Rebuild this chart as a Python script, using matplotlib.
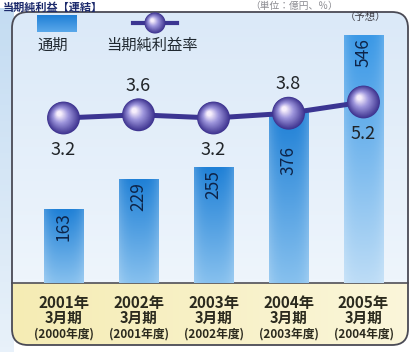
import numpy as np
import matplotlib
matplotlib.use("Agg")
import matplotlib.pyplot as plt
from matplotlib.patches import FancyBboxPatch, Rectangle
from matplotlib.transforms import blended_transform_factory, offset_copy
from matplotlib.colors import to_rgb

plt.rcParams['font.family'] = ['Noto Sans CJK JP', 'DejaVu Sans']

# ---- data ----
years = ["2001年", "2002年", "2003年", "2004年", "2005年"]
months = ["3月期", "3月期", "3月期", "3月期", "3月期"]
fiscal = ["(2000年度)", "(2001年度)", "(2002年度)", "(2003年度)", "(2004年度)"]
net_income = [163, 229, 255, 376, 546]          # 通期 (bars)
margin = [3.2, 3.6, 3.2, 3.8, 5.2]              # 当期純利益率 (line)
margin_label_pos = ["below", "above", "below", "above", "below"]

# styling (label offsets below bar tops, in points)
bar_label_drop = [2, 2, 2, 24, 2]

W, H = 413, 352
fig = plt.figure(figsize=(W / 100, H / 100), dpi=100)
fig.patch.set_facecolor('white')

# ---- background axes in pixel coordinates ----
bg = fig.add_axes([0, 0, 1, 1])
bg.set_xlim(0, W)
bg.set_ylim(H, 0)
bg.axis('off')


def grad_img(c_top, c_bot, n=64, horizontal=False):
    a, b = np.array(to_rgb(c_top)), np.array(to_rgb(c_bot))
    t = np.linspace(0, 1, n)[:, None]
    img = a + (b - a) * t
    if horizontal:
        return img[None, :, :]
    return img[:, None, :]


# left outer strip
bg.imshow(grad_img('#c4dcf2', '#e8f1fa'), extent=(0, 14, H, 8), aspect='auto', zorder=0)

panel = FancyBboxPatch((12, 12), 396, 333, boxstyle='round,pad=0,rounding_size=16',
                       fc='none', ec='#4a4a55', lw=1.3, zorder=5)
bg.add_patch(panel)
im = bg.imshow(grad_img('#dbe9f8', '#eef5fc'), extent=(12, 408, 283, 12), aspect='auto', zorder=1)
im.set_clip_path(panel)
im2 = bg.imshow(grad_img('#f5ecb4', '#fbf6da', horizontal=True), extent=(12, 408, 345, 283),
                aspect='auto', zorder=1)
im2.set_clip_path(panel)
bg.plot([12, 408], [283, 283], color='#505058', lw=1.2, zorder=4)

# title strip at the top
bg.text(3, 0.5, "当期純利益【連結】", fontsize=8, fontweight='bold', color='#1c2a6c',
        va='top', ha='left', zorder=6)
bg.text(250, 0.5, "（単位：億円、％）", fontsize=7, color='#8a8a90',
        va='top', ha='left', zorder=6)

# legend (pixel positions)
leg_rect = Rectangle((37, 15), 40, 17, fc='none', ec='none')
bg.add_patch(leg_rect)
li = bg.imshow(grad_img('#1f7fd6', '#5aa8ea'), extent=(37, 77, 32, 15), aspect='auto', zorder=3)
li.set_clip_path(leg_rect)
bg.text(53, 45, "通期", fontsize=11, color='#202830', ha='center', va='center', zorder=6)
bg.plot([133, 177], [23, 23], color='#3b3592', lw=3, zorder=3)
bg.text(152, 45, "当期純利益率", fontsize=11, color='#202830', ha='center', va='center', zorder=6)
bg.text(366, 17, "（予想）", fontsize=7.5, color='#404048', ha='center', va='center', zorder=6)


def sphere(axis, x, y, size, zorder):
    # many layered circles to imitate a shaded sphere
    c0 = np.array(to_rgb('#3e3490'))
    c1 = np.array(to_rgb('#9d95dc'))
    c2 = np.array(to_rgb('#f6eefc'))
    n = 22
    for k in range(n):
        t = k / (n - 1)
        f = 1 - t * 0.85
        if t < 0.6:
            c = c0 + (c1 - c0) * (t / 0.6)
        else:
            c = c1 + (c2 - c1) * ((t - 0.6) / 0.4)
        off = t * np.sqrt(size) * 0.13
        tr = offset_copy(axis.transData, fig=fig, x=-off, y=off, units='points')
        axis.scatter([x], [y], s=size * f * f, color=c, zorder=zorder + 0.001 * k,
                     edgecolors='none', transform=tr)


sphere(bg, 155, 23, 230, 7)

# ---- main axes ----
ax = fig.add_axes([12 / W, 1 - 283 / H, 396 / W, 271 / H])
ax.set_facecolor('none')
ax.axis('off')
x = np.arange(len(net_income))
bar_w = 0.533
bars = ax.bar(x, net_income, width=bar_w, color='none', edgecolor='none', zorder=2)
bar_top = ['#1f80d6', '#1f80d6', '#1f80d6', '#1f80d6', '#3a98e6']
bar_bot = ['#86c0ee', '#86c0ee', '#86c0ee', '#86c0ee', '#bcdcf6']
for i, (b, v) in enumerate(zip(bars, net_income)):
    n = 64
    vert = grad_img(bar_top[i], bar_bot[i], n)[:, 0, :]
    h = 1 - 0.18 * np.abs(np.linspace(-1, 1, 24)) ** 3
    img = 1 - (1 - vert[:, None, :]) * h[None, :, None]
    bi = ax.imshow(img, extent=(i - bar_w / 2, i + bar_w / 2, 0, v), aspect='auto', zorder=2)
    bi.set_clip_path(b)
    ax.annotate(str(v), (i, v), xytext=(0, -bar_label_drop[i]), textcoords='offset points',
                rotation=90, ha='center', va='top', fontsize=12.5, color='#0e2448', zorder=5)

ax.set_xlim(-0.687, 4.593)
ax.set_ylim(0, 597)

# x labels in bottom band
tr = blended_transform_factory(ax.transData, bg.transData)
for i in x:
    ax.text(i, 303, years[i], transform=tr, ha='center', va='center', fontsize=11,
            fontweight='bold', color='#2b2a1e')
    ax.text(i, 318, months[i], transform=tr, ha='center', va='center', fontsize=10.5,
            fontweight='bold', color='#2b2a1e')
    ax.text(i, 334, fiscal[i], transform=tr, ha='center', va='center', fontsize=8.5,
            fontweight='bold', color='#2b2a1e')

# ---- line axes ----
ax2 = ax.twinx()
ax2.axis('off')
ax2.set_ylim(-17.425, 16.45)
ax2.plot(x, margin, color='#3b3592', lw=3.6, zorder=3, solid_capstyle='round')
for i, m in enumerate(margin):
    sphere(ax2, i, m, 560, 4)
    dy = 21 if margin_label_pos[i] == 'above' else -23
    ax2.annotate(f"{m:.1f}", (i, m), xytext=(0, dy), textcoords='offset points',
                 ha='center', va='center', fontsize=13, color='#202428', zorder=6)

fig.savefig('out.png', dpi=100)
